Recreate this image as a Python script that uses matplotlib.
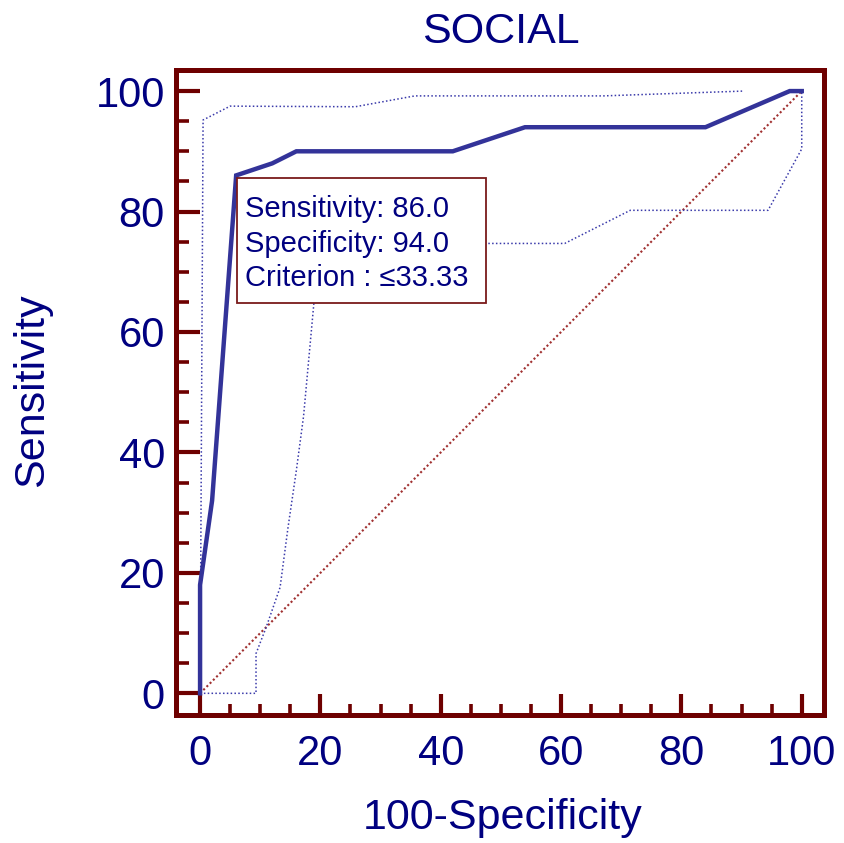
import matplotlib
matplotlib.use("Agg")
import matplotlib.pyplot as plt
from matplotlib.patches import Rectangle
from matplotlib.ticker import MultipleLocator

plt.rcParams['font.family'] = ['Liberation Sans', 'DejaVu Sans']

# ROC curve (100-Specificity, Sensitivity)
roc_x = [0, 0, 2, 6, 12, 16, 42, 54, 84, 98, 100]
roc_y = [0, 18, 32, 86, 88, 90, 90, 94, 94, 100, 100]

# Upper confidence bound
upper_x = [0, 0.5, 5, 25.8, 35.7, 67, 90.3]
upper_y = [0, 95.2, 97.5, 97.4, 99.2, 99.2, 100]

# Lower confidence bound
lower_x = [0, 9.3, 9.3, 11, 13.3, 14.6, 16, 17.2, 18.9, 20.1, 60.6, 71.5, 94.4, 100, 100]
lower_y = [0, 0, 6.6, 11, 17.6, 27.4, 37, 46, 64.6, 74.7, 74.7, 80.2, 80.2, 90.4, 100]

# Reference diagonal
diag_x = [0, 100]
diag_y = [0, 100]

title = "SOCIAL"
xlabel = "100-Specificity"
ylabel = "Sensitivity"
box_lines = ["Sensitivity: 86.0", "Specificity: 94.0", "Criterion : \u226433.33"]
crit_idx = 3

ticks = [0, 20, 40, 60, 80, 100]

MAROON = '#6e0000'
NAVY = '#000080'
BLUE = '#333399'

fig = plt.figure(figsize=(8.44, 8.43), dpi=100)
ax = fig.add_axes([176/844, 1 - 715/843, (824-176)/844, (715-70)/843])

ax.plot(diag_x, diag_y, color='#a03030', lw=1.5, ls=(0, (1, 1.2)), zorder=2)
ax.plot(upper_x, upper_y, color='#3a3aaa', lw=1.1, ls=(0, (1, 1.5)), zorder=2)
ax.plot(lower_x, lower_y, color='#3a3aaa', lw=1.1, ls=(0, (1, 1.5)), zorder=2)
ax.plot(roc_x, roc_y, color=BLUE, lw=3.2, solid_joinstyle='miter', zorder=3)

ax.set_xlim(-4, 103.7)
ax.set_ylim(-3.6, 103.5)

# criterion box anchored at the criterion point
cx, cy = roc_x[crit_idx] + 0.15, roc_y[crit_idx] - 0.4
ax.add_patch(Rectangle((cx, cy - 20.8), 41.4, 20.8, facecolor='white',
                       edgecolor='#7a1a1a', lw=1.3, zorder=4))
for i, line in enumerate(box_lines):
    ax.text(cx + 1.35, cy - 6.5 - 5.75 * i, line, fontsize=21, color=NAVY,
            va='baseline', ha='left', zorder=5)

for s in ax.spines.values():
    s.set_color(MAROON)
    s.set_linewidth(3.6)

ax.set_xticks(ticks)
ax.set_yticks(ticks)
ax.xaxis.set_minor_locator(MultipleLocator(5))
ax.yaxis.set_minor_locator(MultipleLocator(5))
ax.tick_params(axis='both', which='both', direction='in', color=MAROON,
               labelcolor=NAVY, labelsize=30)
ax.tick_params(axis='y', which='major', length=17, width=3, pad=8)
ax.tick_params(axis='y', which='minor', length=9.5, width=2.6)
ax.tick_params(axis='x', which='major', length=15, width=3, pad=14)
ax.tick_params(axis='x', which='minor', length=8, width=2.6)
ax.tick_params(top=False, right=False, which='both')

fig.text(501/844, 1 - 32/843, title, fontsize=31, color=NAVY, ha='center', va='center')
fig.text(503/844, 1 - 818/843, xlabel, fontsize=31, color=NAVY, ha='center', va='center')
fig.text(32/844, 1 - 390/843, ylabel, fontsize=31, color=NAVY, ha='center', va='center',
         rotation=90)

fig.savefig('out.png', dpi=100)
